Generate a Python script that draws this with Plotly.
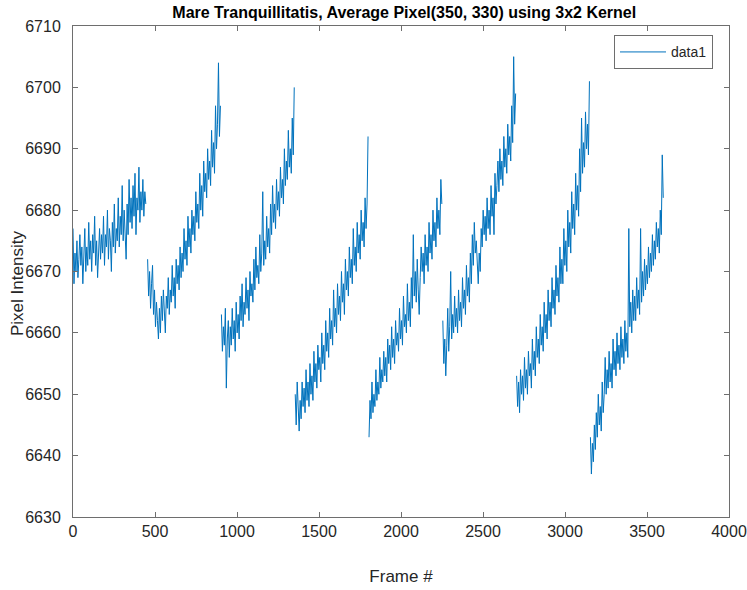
import plotly.graph_objects as go

TITLE = "Mare Tranquillitatis, Average Pixel(350, 330) using 3x2 Kernel"
X_LABEL = "Frame #"
Y_LABEL = "Pixel Intensity"
SERIES_NAME = "data1"
X_TICKS = [0, 500, 1000, 1500, 2000, 2500, 3000, 3500, 4000]
Y_TICKS = [6630, 6640, 6650, 6660, 6670, 6680, 6690, 6700, 6710]

FRAME_STEP = 6
SEG_START = [0, 455, 905, 1355, 1805, 2255, 2705, 3155]

seg1 = [6677, 6668, 6673, 6670, 6675, 6669, 6672, 6676, 6671, 6674, 6668, 6673, 6677, 6670, 6674,
        6671, 6678, 6672, 6675, 6670, 6676, 6673, 6679, 6671, 6675, 6669, 6674, 6677, 6672, 6676,
        6673, 6679, 6671, 6676, 6674, 6680, 6672, 6677, 6675, 6670, 6678, 6674, 6681, 6673, 6677,
        6675, 6682, 6674, 6679, 6676, 6684, 6675, 6680, 6677, 6672, 6681, 6676, 6685, 6678, 6682,
        6677, 6684, 6679, 6686, 6676, 6682, 6680, 6687, 6678, 6683, 6680, 6685, 6679, 6683, 6681]
seg2 = [6672, 6666, 6670, 6664, 6668, 6671, 6663, 6667, 6661, 6665, 6662, 6659, 6664, 6660, 6666,
        6662, 6667, 6663, 6660, 6666, 6664, 6669, 6663, 6667, 6665, 6671, 6666, 6669, 6664, 6672,
        6668, 6671, 6667, 6674, 6669, 6673, 6670, 6677, 6672, 6675, 6671, 6679, 6674, 6677, 6673,
        6680, 6676, 6679, 6675, 6683, 6678, 6681, 6677, 6686, 6680, 6684, 6679, 6688, 6683, 6686,
        6682, 6690, 6685, 6688, 6684, 6693, 6687, 6691, 6686, 6697, 6690, 6694, 6704, 6692, 6697]
seg3 = [6663, 6657, 6661, 6658, 6664, 6651, 6659, 6662, 6656, 6661, 6658, 6664, 6659, 6662, 6657,
        6665, 6660, 6663, 6659, 6666, 6662, 6668, 6661, 6665, 6663, 6669, 6664, 6667, 6662, 6670,
        6666, 6668, 6665, 6672, 6667, 6674, 6669, 6671, 6668, 6676, 6670, 6673, 6683, 6671, 6675,
        6672, 6679, 6674, 6677, 6673, 6681, 6676, 6684, 6678, 6681, 6677, 6685, 6680, 6683, 6679,
        6687, 6682, 6685, 6681, 6690, 6684, 6688, 6685, 6693, 6687, 6690, 6686, 6695, 6689, 6700]
seg4 = [6650, 6645, 6652, 6647, 6644, 6649, 6646, 6652, 6648, 6651, 6647, 6654, 6649, 6652, 6648,
        6655, 6650, 6653, 6649, 6657, 6652, 6655, 6651, 6658, 6654, 6656, 6652, 6660, 6655, 6658,
        6654, 6662, 6657, 6660, 6656, 6664, 6659, 6662, 6658, 6667, 6661, 6664, 6660, 6668, 6663,
        6666, 6662, 6670, 6665, 6668, 6663, 6672, 6667, 6670, 6666, 6674, 6669, 6672, 6668, 6677,
        6671, 6674, 6670, 6678, 6673, 6676, 6672, 6680, 6675, 6678, 6674, 6682, 6677, 6681, 6692]
seg5 = [6643, 6649, 6646, 6652, 6647, 6650, 6648, 6654, 6649, 6652, 6650, 6656, 6651, 6654, 6652,
        6657, 6653, 6656, 6652, 6659, 6655, 6658, 6654, 6661, 6656, 6659, 6655, 6662, 6658, 6660,
        6657, 6664, 6659, 6662, 6658, 6666, 6661, 6663, 6660, 6668, 6662, 6665, 6661, 6669, 6664,
        6676, 6666, 6670, 6665, 6672, 6667, 6663, 6669, 6674, 6670, 6673, 6668, 6676, 6671, 6674,
        6670, 6678, 6673, 6676, 6672, 6680, 6675, 6678, 6674, 6682, 6677, 6680, 6676, 6685, 6681]
seg6 = [6662, 6655, 6659, 6653, 6658, 6664, 6657, 6661, 6670, 6659, 6663, 6660, 6666, 6661, 6664,
        6660, 6667, 6662, 6665, 6661, 6669, 6664, 6667, 6663, 6671, 6666, 6669, 6665, 6673, 6668,
        6676, 6671, 6678, 6673, 6675, 6671, 6668, 6673, 6670, 6677, 6674, 6680, 6676, 6679, 6675,
        6682, 6677, 6680, 6676, 6684, 6679, 6682, 6676, 6686, 6681, 6684, 6688, 6683, 6690, 6685,
        6688, 6684, 6692, 6687, 6690, 6686, 6694, 6689, 6692, 6688, 6697, 6691, 6705, 6694, 6699]
seg7 = [6653, 6648, 6652, 6647, 6654, 6650, 6653, 6649, 6656, 6651, 6654, 6650, 6657, 6653, 6655,
        6651, 6659, 6654, 6657, 6653, 6661, 6656, 6659, 6655, 6663, 6658, 6661, 6657, 6665, 6660,
        6663, 6659, 6667, 6662, 6665, 6661, 6669, 6664, 6667, 6663, 6671, 6666, 6669, 6665, 6674,
        6668, 6672, 6668, 6677, 6671, 6675, 6670, 6680, 6674, 6678, 6673, 6683, 6677, 6681, 6676,
        6686, 6680, 6684, 6679, 6690, 6683, 6695, 6686, 6691, 6687, 6696, 6690, 6694, 6689, 6701]
seg8 = [6643, 6637, 6642, 6639, 6645, 6641, 6647, 6643, 6650, 6645, 6648, 6644, 6652, 6647, 6650,
        6656, 6650, 6654, 6651, 6657, 6652, 6655, 6651, 6659, 6654, 6657, 6653, 6660, 6655, 6658,
        6654, 6661, 6656, 6659, 6655, 6662, 6657, 6660, 6656, 6677, 6661, 6665, 6660, 6667, 6662,
        6666, 6662, 6669, 6664, 6667, 6663, 6677, 6665, 6670, 6666, 6672, 6667, 6671, 6668, 6674,
        6669, 6673, 6670, 6676, 6671, 6675, 6672, 6678, 6674, 6677, 6673, 6680, 6676, 6689, 6682]

SEGMENTS = [seg1, seg2, seg3, seg4, seg5, seg6, seg7, seg8]

xs, ys = [], []
for start, seg in zip(SEG_START, SEGMENTS):
    xs += [start + i * FRAME_STEP for i in range(len(seg))] + [None]
    ys += seg + [None]

FONT = "Liberation Sans, Arial, Helvetica, sans-serif"
AXCOL = "#262626"
LINECOL = "#6e6e6e"

fig = go.Figure()
fig.add_trace(go.Scatter(x=xs, y=ys, mode="lines", name=SERIES_NAME,
                         line=dict(color="#0072BD", width=1), connectgaps=False,
                         showlegend=True))

axis_common = dict(showline=True, linecolor=LINECOL, linewidth=1, mirror="ticks",
                   ticks="inside", ticklen=5, tickcolor=LINECOL, showgrid=False,
                   zeroline=False, automargin=False,
                   tickfont=dict(family=FONT, size=16, color=AXCOL))

fig.update_layout(
    width=747, height=590,
    margin=dict(l=73, r=18, t=26, b=73),
    plot_bgcolor="white", paper_bgcolor="white",
    title=dict(text="<b>" + TITLE + "</b>", x=0.505, xref="paper", xanchor="center",
               y=1 - 12 / 590, yanchor="middle", yref="container",
               font=dict(family=FONT, size=16, color="#000000")),
    xaxis=dict(range=[0, 4000], tickvals=X_TICKS,
               title=dict(text=X_LABEL, font=dict(family=FONT, size=17, color=AXCOL), standoff=30),
               **axis_common),
    yaxis=dict(range=[6630, 6710], tickvals=Y_TICKS, ticklabelstandoff=8,
               **axis_common),
    legend=dict(x=0.8247, y=0.981, xanchor="left", yanchor="top",
                bgcolor="white", bordercolor=LINECOL, borderwidth=1,
                itemwidth=46, entrywidth=58, tracegroupgap=0,
                font=dict(family=FONT, size=14, color=AXCOL)),
    annotations=[dict(text=Y_LABEL, textangle=-90, xref="paper", yref="paper",
                      x=(17 - 73) / 656, y=(517 - 283) / 491, xanchor="center", yanchor="middle",
                      showarrow=False, font=dict(family=FONT, size=17, color=AXCOL))],
)

fig.write_html("out.html")
